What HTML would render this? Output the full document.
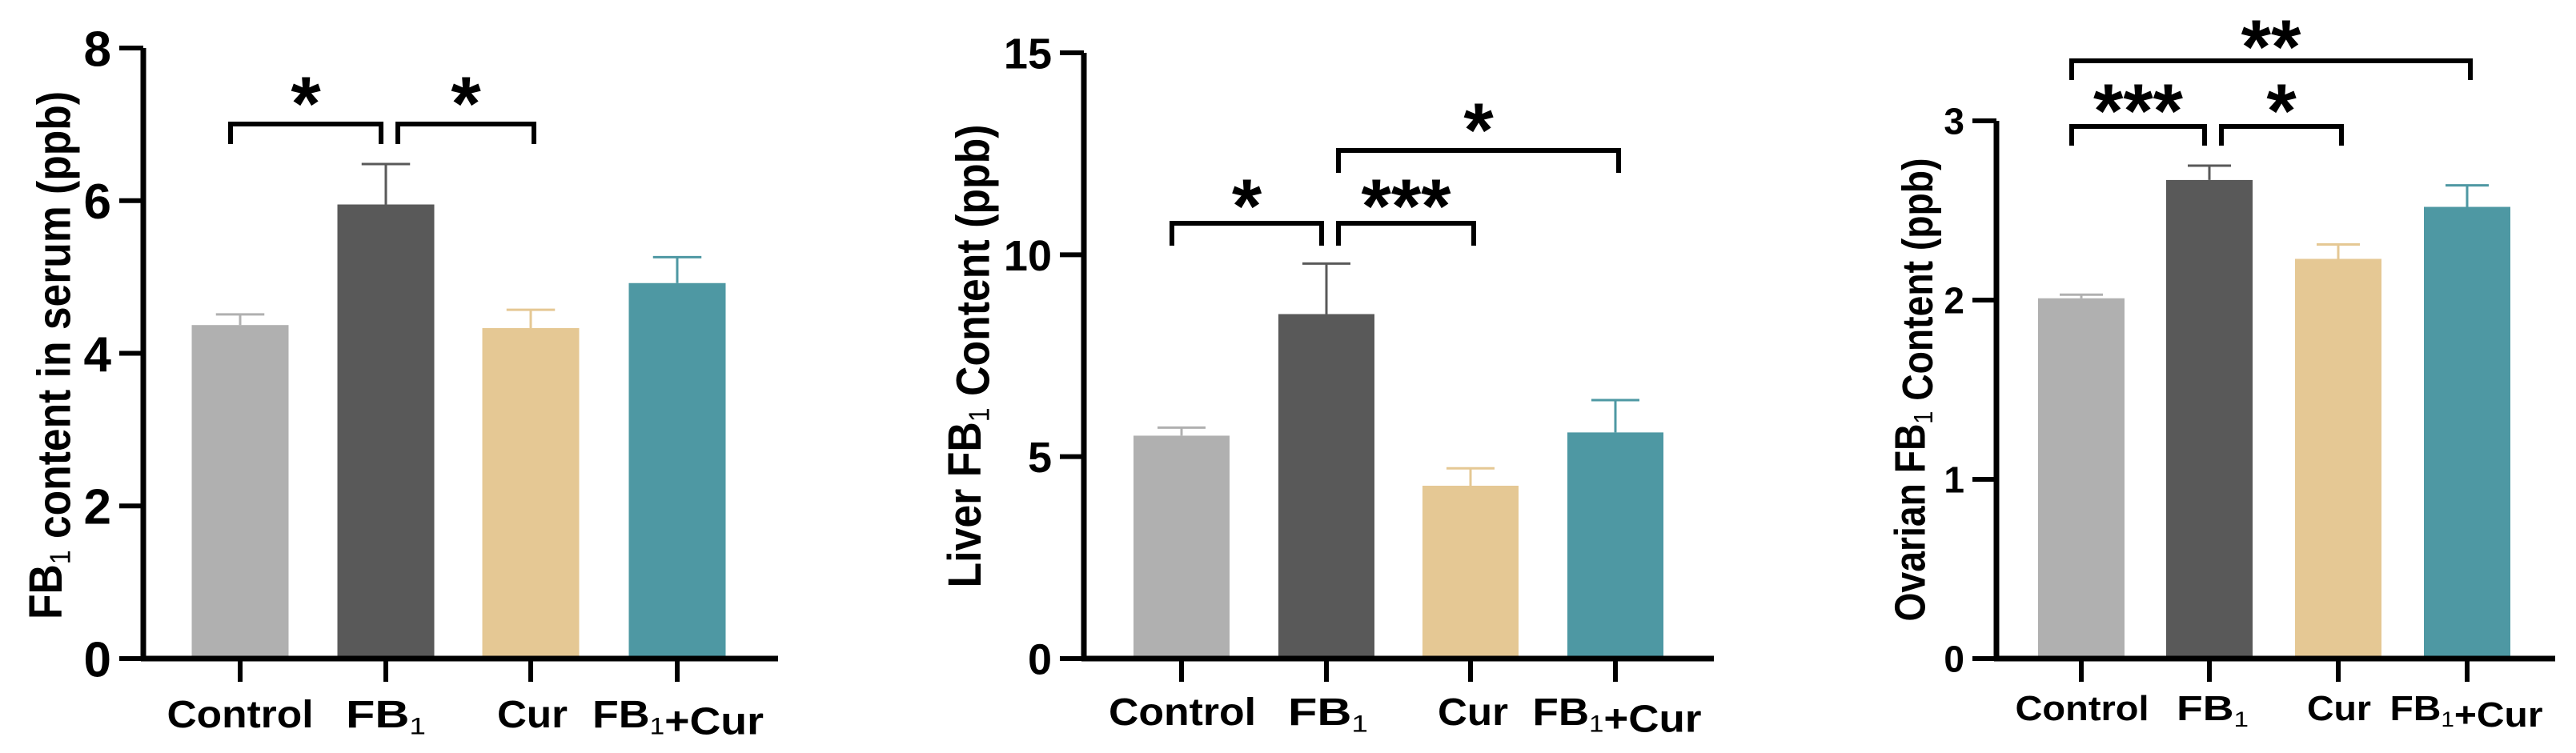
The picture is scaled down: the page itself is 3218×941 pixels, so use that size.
<!DOCTYPE html>
<html><head><meta charset="utf-8"><style>
html,body{margin:0;padding:0;background:#fff}
svg{display:block;font-family:"Liberation Sans",Arial,sans-serif;font-weight:bold}
</style></head><body>
<svg id="fig" width="3218" height="941" viewBox="0 0 3218 941" xmlns="http://www.w3.org/2000/svg"></svg>
<script>
const categories = ["Control","FB1","Cur","FB1+Cur"];
const serumValues = [4.37, 5.95, 4.33, 4.92];
const serumErrors = [0.14, 0.53, 0.24, 0.34];
const serumTicks = [0, 2, 4, 6, 8];
const liverValues = [5.52, 8.53, 4.28, 5.60];
const liverErrors = [0.20, 1.25, 0.43, 0.80];
const liverTicks = [0, 5, 10, 15];
const ovaryValues = [2.01, 2.67, 2.23, 2.52];
const ovaryErrors = [0.02, 0.08, 0.08, 0.12];
const ovaryTicks = [0, 1, 2, 3];
const serumSig = [[0,1,"*"],[1,2,"*"]];
const liverSig = [[0,1,"*"],[1,2,"***"],[1,3,"*"]];
const ovarySig = [[0,1,"***"],[1,2,"*"],[0,3,"**"]];
const colors = ["#b0b0b0","#595959","#e5c894","#4e98a3"];
const NS = "http://www.w3.org/2000/svg";
const svg = document.getElementById("fig");

function mk(tag, attrs, parent){
  const e = document.createElementNS(NS, tag);
  for (const k in attrs) e.setAttribute(k, attrs[k]);
  (parent||svg).appendChild(e);
  return e;
}
function fbText(parent, label, x, y, size, len){
  const t = mk("text", {x:x, y:y, "font-size":size, "text-anchor":"middle", fill:"#000"}, parent);
  if (len) { t.setAttribute("textLength", len); t.setAttribute("lengthAdjust","spacingAndGlyphs"); }
  const parts = label.split("FB1");
  parts.forEach((p,i)=>{
    if (i>0){
      const a = mk("tspan",{},t); a.textContent="FB";
      const s = mk("tspan",{"font-size":size*0.62, dy:size*0.18, "font-weight":"normal"},t); s.textContent="1";
      const r = mk("tspan",{dy:-size*0.18},t); r.textContent="";
    }
    if (p){ const q = mk("tspan",{},t); q.textContent=p; }
  });
  return t;
}

const charts = [
 {name:"serum", values:serumValues, errors:serumErrors, ticks:serumTicks, sig:serumSig,
  ax:179, axEnd:972, y0:823, yTop:60, centers:[300,482,663,846], bw:121, tickFs:62,
  title:"FB1 content in serum (ppb)", titleX:56, titleY:444, titleLen:660, titleFs:58,
  labelY:909, labelFs:48, labelLens:[183,100,88,214], labelX:[300,482,665,847],
  brY:[155,155], brDrop:25, starY:[108,108]},
 {name:"liver", values:liverValues, errors:liverErrors, ticks:liverTicks, sig:liverSig,
  ax:1354, axEnd:2141, y0:823, yTop:66, centers:[1476,1657,1837,2018], bw:120, tickFs:54,
  title:"Liver FB1 Content (ppb)", titleX:1204, titleY:445, titleLen:579, titleFs:58,
  labelY:906, labelFs:48, labelLens:[184,100,88,211], labelX:[1477,1659,1840,2020],
  brY:[279,279,188], brDrop:28, starY:[236,236,141]},
 {name:"ovary", values:ovaryValues, errors:ovaryErrors, ticks:ovaryTicks, sig:ovarySig,
  ax:2494, axEnd:3192, y0:823, yTop:151, centers:[2600,2760,2921,3082], bw:108, tickFs:46,
  title:"Ovarian FB1 Content (ppb)", titleX:2385, titleY:487, titleLen:579, titleFs:54,
  labelY:900, labelFs:44, labelLens:[167,90,80,191], labelX:[2601,2764,2922,3081],
  brY:[158,158,76], brDrop:24, starY:[117,117,37]}
];

charts.forEach(c=>{
  const g = mk("g",{});
  
  
  const maxT = c.ticks[c.ticks.length-1];
  const yS = v => c.y0 - (v/maxT)*(c.y0 - c.yTop);
  c.values.forEach((v,i)=>{
    const x = c.centers[i];
    const b = mk("rect",{x:x-c.bw/2, y:yS(v), width:c.bw, height:c.y0-yS(v), fill:colors[i]}, g);
    
    
    const e = mk("path",{d:`M${x},${yS(v)} V${yS(v+c.errors[i])} M${x-c.bw/4},${yS(v+c.errors[i])} H${x+c.bw/4}`, stroke:colors[i], "stroke-width":3, fill:"none"}, g);
    
    
  });
  const ya = mk("path",{d:`M${c.ax},${c.yTop} V${c.y0+3}`, stroke:"#000","stroke-width":7}, g);
  
  
  const xa = mk("path",{d:`M${c.ax-3},${c.y0} H${c.axEnd}`, stroke:"#000","stroke-width":7}, g);
  
  
  c.ticks.forEach(t=>{
    mk("path",{d:`M${c.ax-30},${yS(t)} H${c.ax}`, stroke:"#000","stroke-width":6}, g);
    const tl = mk("text",{x:c.ax-40, y:yS(t)+c.tickFs*0.36, "font-size":c.tickFs, "text-anchor":"end"}, g);
    tl.textContent = String(t);
    
    
  });
  c.centers.forEach((x,i)=>{
    mk("path",{d:`M${x},${c.y0} V${c.y0+29}`, stroke:"#000","stroke-width":6}, g);
    const lab = fbText(g, categories[i], c.labelX[i], c.labelY, c.labelFs, c.labelLens[i]);
    
    
  });
  const tg = mk("g",{transform:`translate(${c.titleX},${c.titleY}) rotate(-90)`}, g);
  const tt = fbText(tg, c.title, 0, c.titleFs*0.36, c.titleFs, c.titleLen);
  
  
  c.sig.forEach((s,k)=>{
    let x1 = c.centers[s[0]] - (s[0]===0?12:-15);
    let x2 = c.centers[s[1]] + (s[1]===1?-6:4);
    const y = c.brY[k];
    const br = mk("path",{d:`M${x1},${y+c.brDrop} V${y} H${x2} V${y+c.brDrop}`, stroke:"#000","stroke-width":6, fill:"none"}, g);
    
    
    const fs = 96;
    const st = mk("text",{x:(x1+x2)/2, y:c.starY[k]+fs*0.57, "font-size":fs, "text-anchor":"middle"}, g);
    st.textContent = s[2];
    
    
  });
});
</script>
</body></html>
